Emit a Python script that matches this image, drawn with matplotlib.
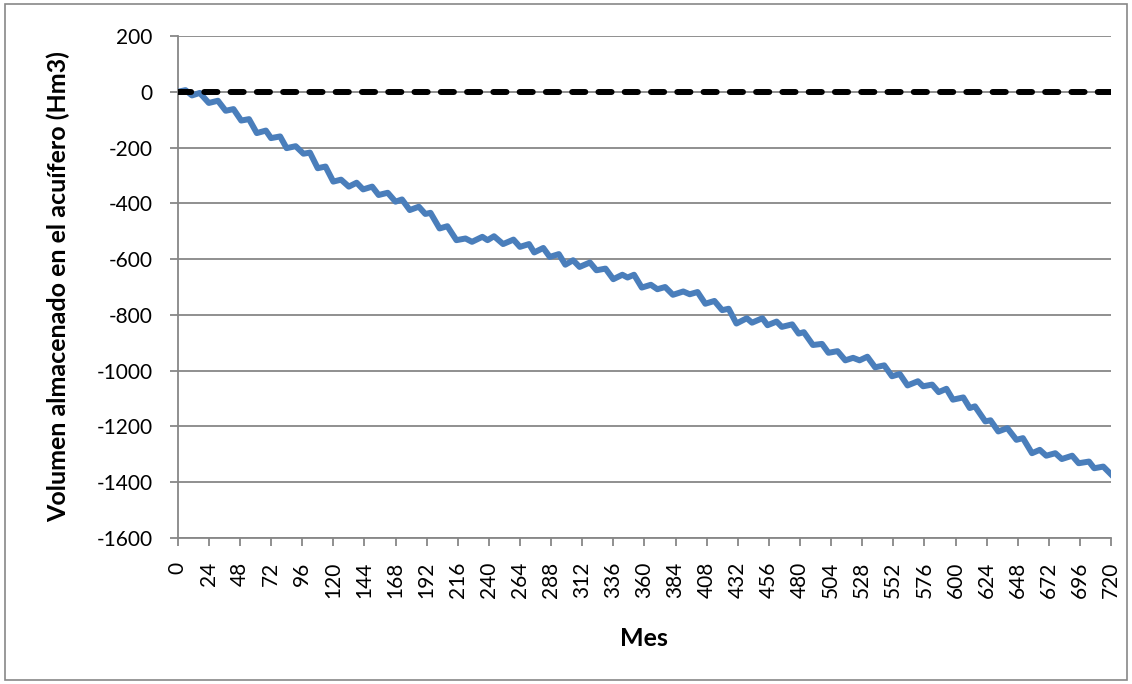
import matplotlib.pyplot as plt
from matplotlib.patches import Rectangle

# Volumen almacenado (Hm3): vértices (mes, valor)
mes = [0, 6, 11, 17, 24, 31, 37, 43, 49, 55, 61, 68, 72, 79, 84, 91, 97, 102,
       108, 114, 120, 126, 132, 138, 143, 150, 155, 162, 168, 173, 179, 186,
       191, 195, 202, 208, 215, 222, 227, 235, 239, 244, 251, 259, 264, 271,
       275, 282, 287, 294, 299, 305, 310, 318, 323, 330, 336, 343, 347, 352,
       358, 365, 370, 376, 382, 390, 395, 401, 407, 414, 420, 425, 431, 439,
       443, 451, 455, 462, 466, 474, 479, 483, 490, 497, 502, 509, 515, 521,
       526, 532, 538, 545, 551, 557, 563, 571, 575, 582, 587, 593, 598, 606,
       611, 615, 623, 627, 633, 640, 647, 652, 659, 665, 670, 677, 682, 690,
       695, 703, 707, 714, 720]
volumen = [0, 6, -13, -4, -40, -32, -68, -62, -103, -98, -148, -139, -166,
           -160, -202, -195, -222, -218, -274, -268, -322, -315, -340, -326,
           -350, -340, -370, -362, -394, -386, -424, -412, -438, -434, -490,
           -482, -532, -526, -538, -520, -532, -518, -546, -530, -556, -546,
           -576, -560, -592, -582, -620, -604, -628, -612, -640, -634, -672,
           -656, -666, -656, -702, -692, -708, -700, -728, -716, -726, -718,
           -760, -750, -783, -778, -831, -812, -828, -812, -837, -824, -843,
           -834, -867, -862, -908, -904, -936, -930, -963, -954, -963, -950,
           -988, -981, -1020, -1012, -1053, -1038, -1056, -1050, -1077, -1065,
           -1104, -1096, -1134, -1128, -1182, -1178, -1218, -1206, -1248,
           -1242, -1296, -1284, -1305, -1296, -1317, -1305, -1332, -1326,
           -1350, -1344, -1372]

referencia_x = [0, 720]
referencia_y = [0, 0]

x_ticks = list(range(0, 721, 24))
y_ticks = list(range(-1600, 201, 200))

plt.rcParams['font.family'] = ['Lato', 'DejaVu Sans']

fig = plt.figure(figsize=(11.32, 6.84), dpi=100)
ax = fig.add_axes([0.157, 0.2135, 0.8245, 0.7338])

ax.plot(mes, volumen, color='#4A7EBB', linewidth=4.3, solid_joinstyle='round',
        zorder=3)
ax.plot(referencia_x, referencia_y, color='black', linewidth=4.3,
        linestyle=(0, (2.2, 2.2)), dash_capstyle='round', zorder=4)

ax.set_xlim(0, 720)
ax.set_ylim(-1600, 200)
ax.set_xticks(x_ticks)
ax.set_xticklabels([str(t) for t in x_ticks], rotation=90, fontsize=15)
ax.set_yticks(y_ticks)
ax.set_yticklabels([str(t) for t in y_ticks], fontsize=15)

ax.grid(axis='y', color='#878787', linewidth=1.3)
ax.set_axisbelow(True)
for s in ['top', 'right']:
    ax.spines[s].set_visible(False)
for s in ['left', 'bottom']:
    ax.spines[s].set_color('#878787')
    ax.spines[s].set_linewidth(1.3)
ax.tick_params(axis='both', direction='out', length=6, width=1.3,
               color='#878787')
ax.tick_params(axis='x', pad=11)
ax.tick_params(axis='y', pad=12)

ax.set_xlabel('Mes', fontsize=18, fontweight='bold')
ax.set_ylabel('Volumen almacenado en el acuífero (Hm3)', fontsize=18,
              fontweight='bold')
ax.xaxis.set_label_coords(0.5, -0.177)
ax.yaxis.set_label_coords(-0.115, 0.5)

fig.patches.append(Rectangle((0.004, 0.006), 0.992, 0.988, fill=False,
                             edgecolor='#878787', linewidth=1.2,
                             transform=fig.transFigure))

fig.savefig('out.png', dpi=100)
